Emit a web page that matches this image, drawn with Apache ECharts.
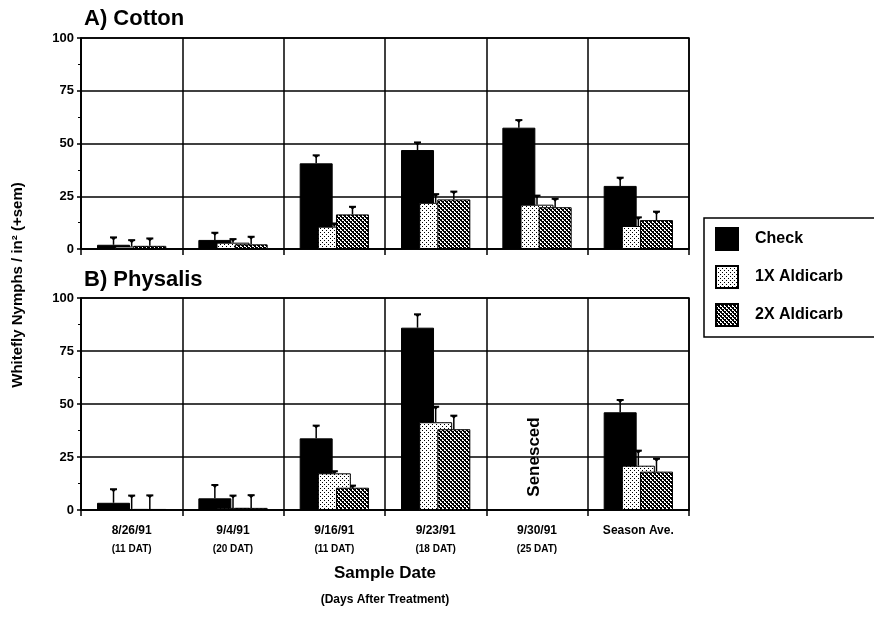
<!DOCTYPE html>
<html><head><meta charset="utf-8">
<script src="https://cdn.jsdelivr.net/npm/echarts@6/dist/echarts.min.js"></script>
<style>html,body{margin:0;padding:0;background:#fff}#c{width:874px;height:632px}</style>
</head><body><div id="c"></div>
<script>
const categories = ['8/26/91','9/4/91','9/16/91','9/23/91','9/30/91','Season Ave.'];
const datLabels = ['(11 DAT)','(20 DAT)','(11 DAT)','(18 DAT)','(25 DAT)',''];
const seriesNames = ['Check','1X Aldicarb','2X Aldicarb'];
const yTicks = [0,25,50,75,100];

const cottonCheck    = [2.0, 4.3, 40.6, 46.9, 57.5, 29.9];
const cottonCheckErr = [3.5, 3.4, 3.8, 3.6, 3.6, 3.9];
const cotton1X       = [1.2, 3.0, 10.6, 21.9, 21.0, 10.9];
const cotton1XErr    = [3.0, 1.7, 1.5, 4.1, 4.3, 4.1];
const cotton2X       = [1.5, 2.2, 16.4, 23.5, 19.8, 13.7];
const cotton2XErr    = [3.5, 3.6, 3.6, 3.7, 4.0, 4.0];

const physCheck      = [3.4, 5.5, 33.8, 86.0, null, 46.1];
const physCheckErr   = [6.4, 6.3, 6.0, 6.3, null, 5.8];
const phys1X         = [0.5, 1.0, 17.3, 41.4, null, 20.9];
const phys1XErr      = [6.3, 5.8, 1.0, 7.3, null, 7.1];
const phys2X         = [0.5, 1.0, 10.5, 38.1, null, 18.1];
const phys2XErr      = [6.4, 6.0, 1.0, 6.4, null, 6.1];

const FONT = '"Liberation Sans", Arial, sans-serif';

function makePattern(kind){
  const c = document.createElement('canvas');
  c.width = 4; c.height = 4;
  const g = c.getContext('2d');
  g.fillStyle = '#fff'; g.fillRect(0,0,4,4);
  g.fillStyle = '#000';
  for (let x=0;x<4;x++) for (let y=0;y<4;y++){
    if (kind==='dot') {
      if ((x===0&&y===0)||(x===2&&y===2)) g.fillRect(x,y,1,1);
    } else {
      const d = ((x - y) % 4 + 4) % 4;
      if (d===0 || d===1 || ((x+y)%4===0)) g.fillRect(x,y,1,1);
    }
  }
  return {image: c, repeat: 'repeat'};
}
const fills = ['#000', makePattern('dot'), makePattern('hatch')];

const BAR_W = 33, GAP = -0.45;
const STEP = BAR_W * (1 + GAP);

function barSeries(name, data, k, idx){
  return {
    name, type:'bar', xAxisIndex: idx, yAxisIndex: idx,
    data, barWidth: BAR_W, barGap: (GAP*100)+'%',
    itemStyle:{color: fills[k], borderColor:'#000', borderWidth:1},
    emphasis:{disabled:true}, animation:false
  };
}
function errSeries(name, vals, errs, k, idx){
  const d = [];
  vals.forEach((v,i)=>{ if (v!=null && errs[i]!=null) d.push([i, v, errs[i]]); });
  return {
    name: name+' err', type:'custom', xAxisIndex: idx, yAxisIndex: idx,
    data: d, encode:{x:0,y:1}, animation:false, silent:true,
    renderItem: function(params, api){
      const cat = api.value(0), v = api.value(1), e = api.value(2);
      const base = api.coord([cat, v]);
      const top = api.coord([cat, v+e]);
      const x = base[0] + (k-1)*STEP;
      return {type:'group', children:[
        {type:'line', shape:{x1:x,y1:base[1],x2:x,y2:top[1]}, style:{stroke:'#000',lineWidth:1.5}},
        {type:'line', shape:{x1:x-3.5,y1:top[1],x2:x+3.5,y2:top[1]}, style:{stroke:'#000',lineWidth:2}},
        {type:'polygon', shape:{points:[[x-3,top[1]],[x+3,top[1]],[x,top[1]+3]]}, style:{fill:'#000'}}
      ]};
    }
  };
}

const yAxisBase = (idx)=>({
  type:'value', gridIndex: idx, min:0, max:100, interval:25,
  axisLine:{show:true, lineStyle:{color:'#000', width:1.5}},
  axisTick:{show:true, length:4, lineStyle:{color:'#000', width:1.5}},
  minorTick:{show:true, splitNumber:2, length:3, lineStyle:{color:'#000', width:1}},
  splitLine:{show:true, lineStyle:{color:'#000', width:1.5}},
  axisLabel:{color:'#000', fontFamily:FONT, fontWeight:'bold', fontSize:13, margin:7}
});
const xAxisBase = (idx, showLabels)=>({
  type:'category', gridIndex: idx, data: categories, boundaryGap:true,
  axisLine:{show:true, lineStyle:{color:'#000', width:1.5}},
  axisTick:{show:true, length:6, lineStyle:{color:'#000', width:1.5}},
  splitLine:{show:true, lineStyle:{color:'#000', width:1.5}},
  axisLabel:{show: showLabels, interval:0, margin:11, color:'#000', fontFamily:FONT, fontWeight:'bold', fontSize:12,
    lineHeight:19,
    formatter: (v, i)=> datLabels[i] ? v + '\n{s|' + datLabels[i] + '}' : v,
    rich:{s:{fontFamily:FONT, fontWeight:'bold', fontSize:10, color:'#000', lineHeight:19}}}
});

const chart = echarts.init(document.getElementById('c'), null, {renderer:'canvas'});
chart.setOption({
  animation:false,
  backgroundColor:'#fff',
  grid:[
    {left:81, top:38, width:608, height:211, show:true, borderColor:'#000', borderWidth:1.5},
    {left:81, top:298, width:608, height:212, show:true, borderColor:'#000', borderWidth:1.5}
  ],
  xAxis:[xAxisBase(0,false), xAxisBase(1,true)],
  yAxis:[yAxisBase(0), yAxisBase(1)],
  legend:{
    data: seriesNames, left:704, top:218, orient:'vertical',
    itemWidth:22, itemHeight:22, itemGap:14,
    padding:[9,60,10,11], borderColor:'#000', borderWidth:1.5,
    icon:'rect', selectedMode:false,
    textStyle:{color:'#000', fontFamily:FONT, fontWeight:'bold', fontSize:16, padding:[0,0,0,12]}
  },
  series:[
    barSeries('Check', cottonCheck, 0, 0),
    errSeries('Check', cottonCheck, cottonCheckErr, 0, 0),
    barSeries('1X Aldicarb', cotton1X, 1, 0),
    errSeries('1X Aldicarb', cotton1X, cotton1XErr, 1, 0),
    barSeries('2X Aldicarb', cotton2X, 2, 0),
    errSeries('2X Aldicarb', cotton2X, cotton2XErr, 2, 0),
    barSeries('Check', physCheck, 0, 1),
    errSeries('Check', physCheck, physCheckErr, 0, 1),
    barSeries('1X Aldicarb', phys1X, 1, 1),
    errSeries('1X Aldicarb', phys1X, phys1XErr, 1, 1),
    barSeries('2X Aldicarb', phys2X, 2, 1),
    errSeries('2X Aldicarb', phys2X, phys2XErr, 2, 1)
  ],
  graphic:[
    {type:'text', left:84, top:8, style:{text:'A) Cotton', font:'bold 22px '+FONT, fill:'#000'}},
    {type:'text', left:84, top:269, style:{text:'B) Physalis', font:'bold 22px '+FONT, fill:'#000'}},
    {type:'text', x:18, y:285, rotation:Math.PI/2, style:{text:'Whitefly Nymphs / in² (+sem)', font:'bold 15px '+FONT, fill:'#000', align:'center', verticalAlign:'middle'}},
    {type:'text', x:534, y:457, rotation:Math.PI/2, style:{text:'Senesced', font:'bold 17px '+FONT, fill:'#000', align:'center', verticalAlign:'middle'}},
    {type:'text', x:385, y:573, style:{text:'Sample Date', font:'bold 17px '+FONT, fill:'#000', align:'center', verticalAlign:'middle'}},
    {type:'text', x:385, y:600, style:{text:'(Days After Treatment)', font:'bold 12px '+FONT, fill:'#000', align:'center', verticalAlign:'middle'}}
  ]
});
</script>
</body></html>
